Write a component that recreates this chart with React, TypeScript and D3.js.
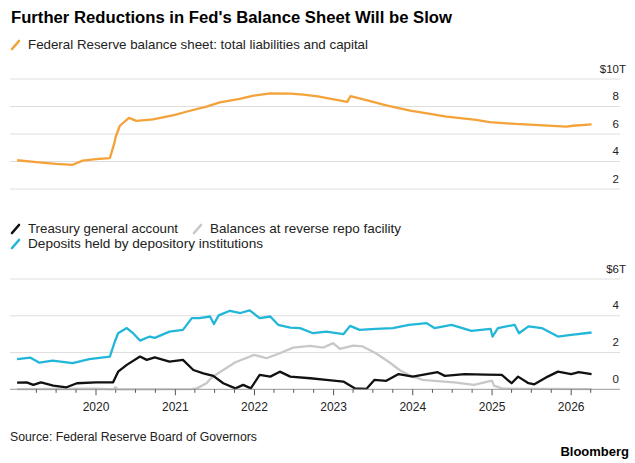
import React from "react"
import * as d3 from "d3"

// Fed balance sheet, $ trillions
const balanceSheet: [string, number][] = [
  ["2019-01-02", 4.09], ["2019-04-01", 3.95], ["2019-07-01", 3.82], ["2019-09-15", 3.76],
  ["2019-11-01", 4.06], ["2020-01-01", 4.17], ["2020-03-05", 4.24], ["2020-03-25", 5.3],
  ["2020-04-01", 5.8], ["2020-04-20", 6.6], ["2020-06-01", 7.17], ["2020-07-05", 6.95],
  ["2020-09-20", 7.07], ["2020-12-25", 7.38], ["2021-03-10", 7.69], ["2021-05-25", 7.99],
  ["2021-07-25", 8.3], ["2021-10-25", 8.55], ["2021-12-28", 8.79], ["2022-03-15", 8.96],
  ["2022-06-15", 8.93], ["2022-08-15", 8.86], ["2022-10-20", 8.73], ["2023-03-05", 8.34],
  ["2023-03-20", 8.76], ["2023-06-01", 8.47], ["2023-09-01", 8.09], ["2023-12-20", 7.7],
  ["2024-02-15", 7.55], ["2024-06-05", 7.26], ["2024-10-20", 7.02], ["2024-12-20", 6.87],
  ["2025-04-20", 6.73], ["2025-08-25", 6.63], ["2025-12-10", 6.53], ["2026-01-10", 6.6],
  ["2026-04-05", 6.7],
]

// Deposits held by depository institutions, $ trillions
const deposits: [string, number][] = [
  ["2019-01-02", 1.64], ["2019-03-05", 1.72], ["2019-04-15", 1.45], ["2019-06-15", 1.56],
  ["2019-09-15", 1.42], ["2019-12-01", 1.64], ["2020-03-05", 1.78], ["2020-03-28", 2.6],
  ["2020-04-12", 3.05], ["2020-05-22", 3.33], ["2020-06-20", 3.05], ["2020-07-22", 2.65],
  ["2020-09-05", 2.87], ["2020-09-28", 2.8], ["2020-12-05", 3.14], ["2021-02-05", 3.23],
  ["2021-03-18", 3.87], ["2021-04-22", 3.87], ["2021-06-10", 3.96], ["2021-06-28", 3.55],
  ["2021-07-20", 4.02], ["2021-09-10", 4.27], ["2021-10-28", 4.15], ["2021-12-10", 4.29],
  ["2022-01-25", 3.87], ["2022-03-15", 3.96], ["2022-04-20", 3.51], ["2022-06-15", 3.36],
  ["2022-07-30", 3.33], ["2022-09-28", 3.05], ["2022-11-28", 3.14], ["2023-02-15", 3.0],
  ["2023-03-18", 3.45], ["2023-05-01", 3.23], ["2023-07-15", 3.29], ["2023-10-01", 3.33],
  ["2023-12-15", 3.51], ["2024-03-05", 3.6], ["2024-04-10", 3.33], ["2024-06-28", 3.51],
  ["2024-09-28", 3.18], ["2024-12-25", 3.29], ["2025-01-03", 2.87], ["2025-01-28", 3.33],
  ["2025-04-15", 3.51], ["2025-05-05", 3.05], ["2025-06-18", 3.42], ["2025-08-18", 3.33],
  ["2025-11-01", 2.87], ["2026-01-01", 2.96], ["2026-04-05", 3.09],
]

// Treasury general account, $ trillions
const treasuryAccount: [string, number][] = [
  ["2019-01-02", 0.36], ["2019-02-15", 0.38], ["2019-03-18", 0.24], ["2019-04-22", 0.38],
  ["2019-06-18", 0.2], ["2019-08-18", 0.11], ["2019-10-05", 0.33], ["2020-01-01", 0.38],
  ["2020-03-20", 0.38], ["2020-04-12", 0.96], ["2020-05-22", 1.33], ["2020-07-22", 1.78],
  ["2020-08-22", 1.6], ["2020-09-28", 1.74], ["2020-12-05", 1.51], ["2021-02-05", 1.6],
  ["2021-03-25", 1.05], ["2021-05-10", 0.87], ["2021-06-25", 0.73], ["2021-08-10", 0.33],
  ["2021-10-05", 0.05], ["2021-11-10", 0.24], ["2021-12-15", 0.05], ["2022-01-25", 0.78],
  ["2022-03-15", 0.69], ["2022-04-28", 0.96], ["2022-06-15", 0.69], ["2022-09-15", 0.6],
  ["2022-11-28", 0.51], ["2023-02-15", 0.42], ["2023-04-10", 0.05], ["2023-06-01", 0.02],
  ["2023-07-08", 0.51], ["2023-09-01", 0.46], ["2023-10-28", 0.83], ["2024-01-01", 0.69],
  ["2024-04-25", 0.93], ["2024-05-28", 0.73], ["2024-08-28", 0.83], ["2024-12-01", 0.8],
  ["2025-02-15", 0.78], ["2025-04-01", 0.33], ["2025-05-01", 0.69], ["2025-06-18", 0.33],
  ["2025-07-15", 0.27], ["2025-09-15", 0.69], ["2025-11-01", 0.96], ["2026-01-01", 0.83],
  ["2026-02-05", 0.93], ["2026-04-05", 0.82],
]

// Balances at reverse repo facility, $ trillions
const reverseRepo: [string, number][] = [
  ["2019-01-02", 0.01], ["2019-12-31", 0.03], ["2020-03-20", 0.0], ["2020-03-31", 0.12],
  ["2020-04-10", 0.0], ["2021-03-15", 0.01], ["2021-04-10", 0.05], ["2021-05-25", 0.33],
  ["2021-06-10", 0.55], ["2021-07-05", 0.78], ["2021-08-10", 1.05], ["2021-10-05", 1.47],
  ["2021-12-31", 1.87], ["2022-02-25", 1.69], ["2022-04-28", 1.96], ["2022-06-28", 2.27],
  ["2022-09-15", 2.36], ["2022-11-15", 2.27], ["2022-12-30", 2.51], ["2023-01-30", 2.2],
  ["2023-04-01", 2.38], ["2023-05-15", 2.33], ["2023-07-15", 1.96], ["2023-09-15", 1.47],
  ["2023-11-01", 1.05], ["2023-12-15", 0.78], ["2024-02-15", 0.51], ["2024-04-10", 0.46],
  ["2024-07-10", 0.38], ["2024-10-10", 0.24], ["2024-12-31", 0.47], ["2025-01-10", 0.2],
  ["2025-02-15", 0.05], ["2025-06-01", 0.02], ["2025-09-01", 0.02], ["2026-04-05", 0.01],
]

const topTicks = [2, 4, 6, 8, 10]
const bottomTicks = [0, 2, 4, 6]
const years = [2020, 2021, 2022, 2023, 2024, 2025, 2026]

const ORANGE = "#f4a23a"
const CYAN = "#22b6d8"
const BLACK = "#111111"
const GRAY = "#c8c8c8"
const FONT = "'Liberation Sans', Arial, Helvetica, sans-serif"

const parse = d3.timeParse("%Y-%m-%d")

const x = d3
  .scaleTime()
  .domain([parse("2020-01-01")!, parse("2026-01-01")!])
  .range([96, 571.2])

const yTop = d3.scaleLinear().domain([2, 10]).range([189, 79])
const yBottom = d3.scaleLinear().domain([0, 6]).range([389.3, 279])

const GRID_LEFT = 10
const GRID_RIGHT = 620
const LABEL_X = 619

function linePath(data: [string, number][], y: d3.ScaleLinear<number, number>) {
  return (
    d3
      .line<[string, number]>()
      .x((d) => x(parse(d[0])!))
      .y((d) => y(d[1]))(data) ?? ""
  )
}

function LegendMark({ x0, y0, color }: { x0: number; y0: number; color: string }) {
  return (
    <line
      x1={x0}
      y1={y0}
      x2={x0 + 7}
      y2={y0 - 8}
      stroke={color}
      strokeWidth={2.6}
      strokeLinecap="round"
    />
  )
}

function YLabels({
  ticks,
  y,
  unit,
}: {
  ticks: number[]
  y: d3.ScaleLinear<number, number>
  unit: string
}) {
  const top = ticks[ticks.length - 1]
  return (
    <g fontFamily={FONT} fontSize={11.5} fill="#222">
      {ticks.map((t) => (
        <text key={t} x={LABEL_X} y={y(t) - 6.5} textAnchor="end">
          {t === top ? `$${t}` : t}
        </text>
      ))}
      <text x={LABEL_X} y={y(top) - 6.5}>
        {unit}
      </text>
    </g>
  )
}

export default function App() {
  const quarterTicks = d3.timeMonth
    .every(3)!
    .range(parse("2019-04-01")!, parse("2026-04-02")!)

  return (
    <div style={{ position: "absolute", left: 0, top: 0 }}>
      <svg width={635} height={463} style={{ display: "block", background: "#fff" }}>
        <text
          x={11}
          y={22.7}
          fontFamily={FONT}
          fontWeight="bold"
          fontSize={16.8}
          fill="#000"
          textLength={441}
          lengthAdjust="spacingAndGlyphs"
        >
          Further Reductions in Fed's Balance Sheet Will be Slow
        </text>

        {/* top panel legend */}
        <LegendMark x0={12} y0={49} color={ORANGE} />
        <text x={28} y={49.3} fontFamily={FONT} fontSize={13} fill="#222" textLength={340} lengthAdjust="spacingAndGlyphs">
          Federal Reserve balance sheet: total liabilities and capital
        </text>

        {/* top panel grid */}
        {topTicks.map((t) => (
          <line key={t} x1={GRID_LEFT} x2={GRID_RIGHT} y1={yTop(t)} y2={yTop(t)} stroke="#dedede" strokeWidth={1} />
        ))}
        <YLabels ticks={topTicks} y={yTop} unit="T" />
        <path d={linePath(balanceSheet, yTop)} fill="none" stroke={ORANGE} strokeWidth={2.3} strokeLinejoin="round" />

        {/* bottom panel legend */}
        <LegendMark x0={12} y0={233} color={BLACK} />
        <text x={28} y={233.3} fontFamily={FONT} fontSize={13} fill="#222" textLength={150} lengthAdjust="spacingAndGlyphs">
          Treasury general account
        </text>
        <LegendMark x0={194} y0={233} color={GRAY} />
        <text x={210} y={233.3} fontFamily={FONT} fontSize={13} fill="#222" textLength={191} lengthAdjust="spacingAndGlyphs">
          Balances at reverse repo facility
        </text>
        <LegendMark x0={12} y0={248} color={CYAN} />
        <text x={28} y={248.3} fontFamily={FONT} fontSize={13} fill="#222" textLength={235} lengthAdjust="spacingAndGlyphs">
          Deposits held by depository institutions
        </text>

        {/* bottom panel grid */}
        {bottomTicks
          .filter((t) => t !== 0)
          .map((t) => (
            <line key={t} x1={GRID_LEFT} x2={GRID_RIGHT} y1={yBottom(t)} y2={yBottom(t)} stroke="#dedede" strokeWidth={1} />
          ))}
        <YLabels ticks={bottomTicks} y={yBottom} unit="T" />

        <path d={linePath(reverseRepo, yBottom)} fill="none" stroke={GRAY} strokeWidth={2.3} strokeLinejoin="round" />
        <path d={linePath(treasuryAccount, yBottom)} fill="none" stroke={BLACK} strokeWidth={2.3} strokeLinejoin="round" />
        <path d={linePath(deposits, yBottom)} fill="none" stroke={CYAN} strokeWidth={2.3} strokeLinejoin="round" />

        {/* x axis */}
        <line x1={GRID_LEFT} x2={GRID_RIGHT} y1={yBottom(0)} y2={yBottom(0)} stroke="#9a9a9a" strokeWidth={1} />
        {quarterTicks.map((d, i) => {
          const major = d.getMonth() === 0
          return (
            <line
              key={i}
              x1={x(d)}
              x2={x(d)}
              y1={yBottom(0)}
              y2={yBottom(0) + (major ? 6 : 3.5)}
              stroke="#555"
              strokeWidth={1}
            />
          )
        })}
        <g fontFamily={FONT} fontSize={12} fill="#222" textAnchor="middle">
          {years.map((yr) => (
            <text key={yr} x={x(new Date(yr, 0, 1))} y={411}>
              {yr}
            </text>
          ))}
        </g>

        <text x={10} y={441} fontFamily={FONT} fontSize={12} fill="#222" textLength={247} lengthAdjust="spacingAndGlyphs">
          Source: Federal Reserve Board of Governors
        </text>
        <text x={629} y={456} fontFamily={FONT} fontSize={13} fontWeight="bold" fill="#000" textAnchor="end">
          Bloomberg
        </text>
      </svg>
    </div>
  )
}
